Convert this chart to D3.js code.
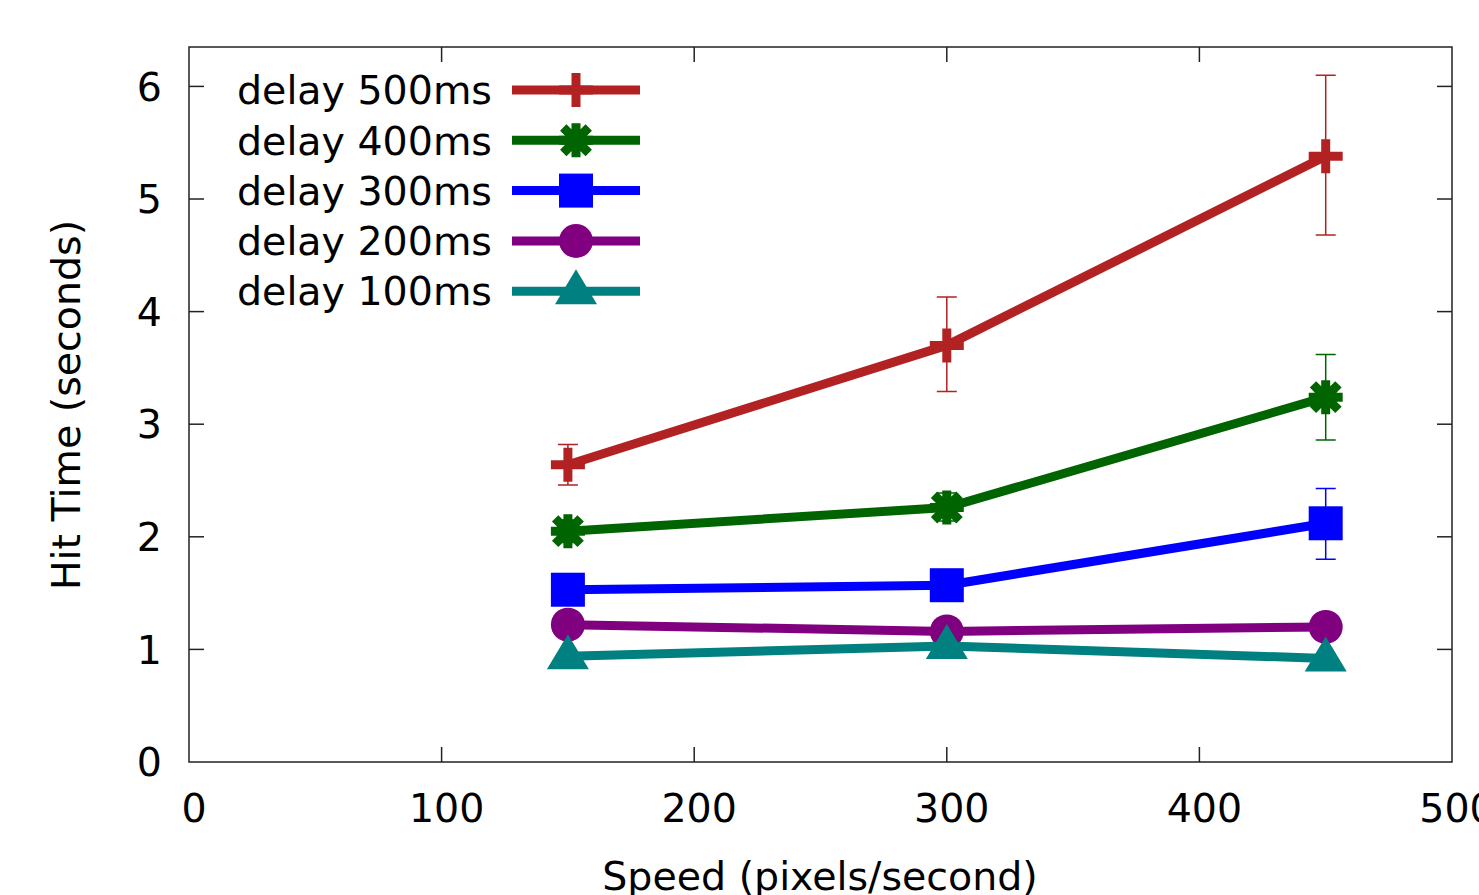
<!DOCTYPE html>
<html lang="en">
<head>
    <meta charset="UTF-8">
    <title>Hit Time vs Speed</title>
    <script src="https://d3js.org/d3.v7.min.js"></script>
    <style>
        body { margin: 0; background: #fff; }
        svg { display: block; font-family: "DejaVu Sans", sans-serif; }
    </style>
</head>
<body>
    <svg id="chart" width="1479" height="895"></svg>

    <script>
        // data
        const speeds = [150, 300, 450];
        const seriesNames = ["delay 500ms", "delay 400ms", "delay 300ms", "delay 200ms", "delay 100ms"];
        const seriesColors = ["#b22222", "#006400", "#0000ff", "#800080", "#008080"];
        const seriesMarkers = ["plus", "star", "square", "circle", "triangle"];
        const delay500 = [2.64, 3.70, 5.38];
        const delay400 = [2.05, 2.26, 3.24];
        const delay300 = [1.53, 1.57, 2.12];
        const delay200 = [1.22, 1.16, 1.20];
        const delay100 = [0.94, 1.03, 0.92];
        // error bars: low / high
        const err500Low = [2.46, 3.29, 4.68], err500High = [2.82, 4.13, 6.10];
        const err400Low = [1.95, 2.14, 2.86], err400High = [2.15, 2.39, 3.62];
        const err300Low = [1.45, 1.50, 1.80], err300High = [1.60, 1.64, 2.43];
        const err200Low = [1.17, 1.12, 1.15], err200High = [1.27, 1.20, 1.25];
        const err100Low = [0.90, 0.99, 0.88], err100High = [0.98, 1.07, 0.96];
        const xTicks = [0, 100, 200, 300, 400, 500];
        const yTicks = [0, 1, 2, 3, 4, 5, 6];

        const values = [delay500, delay400, delay300, delay200, delay100];
        const lows = [err500Low, err400Low, err300Low, err200Low, err100Low];
        const highs = [err500High, err400High, err300High, err200High, err100High];

        const svg = d3.select("#chart");
        const plotL = 189, plotR = 1452, plotT = 47, plotB = 762;

        const x = d3.scaleLinear().domain([0, 500]).range([plotL, plotR]);
        const y = d3.scaleLinear().domain([0, 6.35]).range([plotB, plotT]);

        const fontSize = 39.5;
        const tickLen = 15;
        const frame = svg.append("g").attr("stroke", "#222").attr("stroke-width", 1.5);

        // inward ticks on all four sides (mirror)
        xTicks.forEach(t => {
            if (t === 0 || t === 500) return;
            frame.append("line").attr("x1", x(t)).attr("x2", x(t)).attr("y1", plotB).attr("y2", plotB - tickLen);
            frame.append("line").attr("x1", x(t)).attr("x2", x(t)).attr("y1", plotT).attr("y2", plotT + tickLen);
        });
        yTicks.forEach(t => {
            if (t === 0) return;
            frame.append("line").attr("x1", plotL).attr("x2", plotL + tickLen).attr("y1", y(t)).attr("y2", y(t));
            frame.append("line").attr("x1", plotR).attr("x2", plotR - tickLen).attr("y1", y(t)).attr("y2", y(t));
        });
        frame.append("rect")
            .attr("x", plotL).attr("y", plotT)
            .attr("width", plotR - plotL).attr("height", plotB - plotT)
            .attr("fill", "none");

        // tick labels
        svg.selectAll(".xlab").data(xTicks).enter().append("text")
            .attr("x", d => x(d) + 5).attr("y", 822)
            .attr("text-anchor", "middle").attr("font-size", fontSize)
            .text(d => d);
        svg.selectAll(".ylab").data(yTicks).enter().append("text")
            .attr("x", 162).attr("y", d => y(d))
            .attr("dy", "0.36em")
            .attr("text-anchor", "end").attr("font-size", fontSize)
            .text(d => d);

        // axis titles
        svg.append("text")
            .attr("x", 820).attr("y", 890)
            .attr("text-anchor", "middle").attr("font-size", fontSize)
            .text("Speed (pixels/second)");
        svg.append("text")
            .attr("transform", "translate(80,405) rotate(-90)")
            .attr("text-anchor", "middle").attr("font-size", fontSize)
            .text("Hit Time (seconds)");

        function drawMarker(g, type, cx, cy, color) {
            const s = 17;
            if (type === "plus") {
                g.append("path").attr("d", `M${cx - s},${cy}H${cx + s}M${cx},${cy - s}V${cy + s}`)
                    .attr("stroke", color).attr("stroke-width", 9).attr("fill", "none");
            } else if (type === "star") {
                const d = s * 0.75;
                g.append("path")
                    .attr("d", `M${cx - s},${cy}H${cx + s}M${cx},${cy - s}V${cy + s}` +
                        `M${cx - d},${cy - d}L${cx + d},${cy + d}M${cx - d},${cy + d}L${cx + d},${cy - d}`)
                    .attr("stroke", color).attr("stroke-width", 9).attr("fill", "none");
            } else if (type === "square") {
                g.append("rect").attr("x", cx - s).attr("y", cy - s)
                    .attr("width", 2 * s).attr("height", 2 * s).attr("fill", color);
            } else if (type === "circle") {
                g.append("circle").attr("cx", cx).attr("cy", cy).attr("r", s).attr("fill", color);
            } else if (type === "triangle") {
                g.append("path")
                    .attr("d", `M${cx},${cy - 22}L${cx + 21},${cy + 13}L${cx - 21},${cy + 13}Z`)
                    .attr("fill", color);
            }
        }

        const line = d3.line().x(d => x(d[0])).y(d => y(d[1]));

        seriesNames.forEach((name, i) => {
            const color = seriesColors[i];
            const g = svg.append("g");
            const pts = speeds.map((s, j) => [s, values[i][j]]);

            // error bars
            speeds.forEach((s, j) => {
                const px = x(s);
                const lo = y(lows[i][j]), hi = y(highs[i][j]);
                g.append("path")
                    .attr("d", `M${px},${lo}V${hi}M${px - 10},${lo}H${px + 10}M${px - 10},${hi}H${px + 10}`)
                    .attr("stroke", color).attr("stroke-width", 1.5).attr("fill", "none");
            });

            g.append("path").datum(pts)
                .attr("d", line)
                .attr("fill", "none").attr("stroke", color)
                .attr("stroke-width", 9).attr("stroke-linejoin", "round");

            pts.forEach(p => drawMarker(g, seriesMarkers[i], x(p[0]), y(p[1]), color));

            // legend entry
            const ly = 90 + i * 50.3;
            svg.append("text")
                .attr("x", 237).attr("y", ly).attr("dy", "0.36em")
                .attr("font-size", fontSize)
                .text(name);
            const lg = svg.append("g");
            lg.append("line").attr("x1", 512).attr("x2", 640).attr("y1", ly).attr("y2", ly)
                .attr("stroke", color).attr("stroke-width", 9);
            drawMarker(lg, seriesMarkers[i], 576, ly, color);
        });
    </script>
</body>
</html>
